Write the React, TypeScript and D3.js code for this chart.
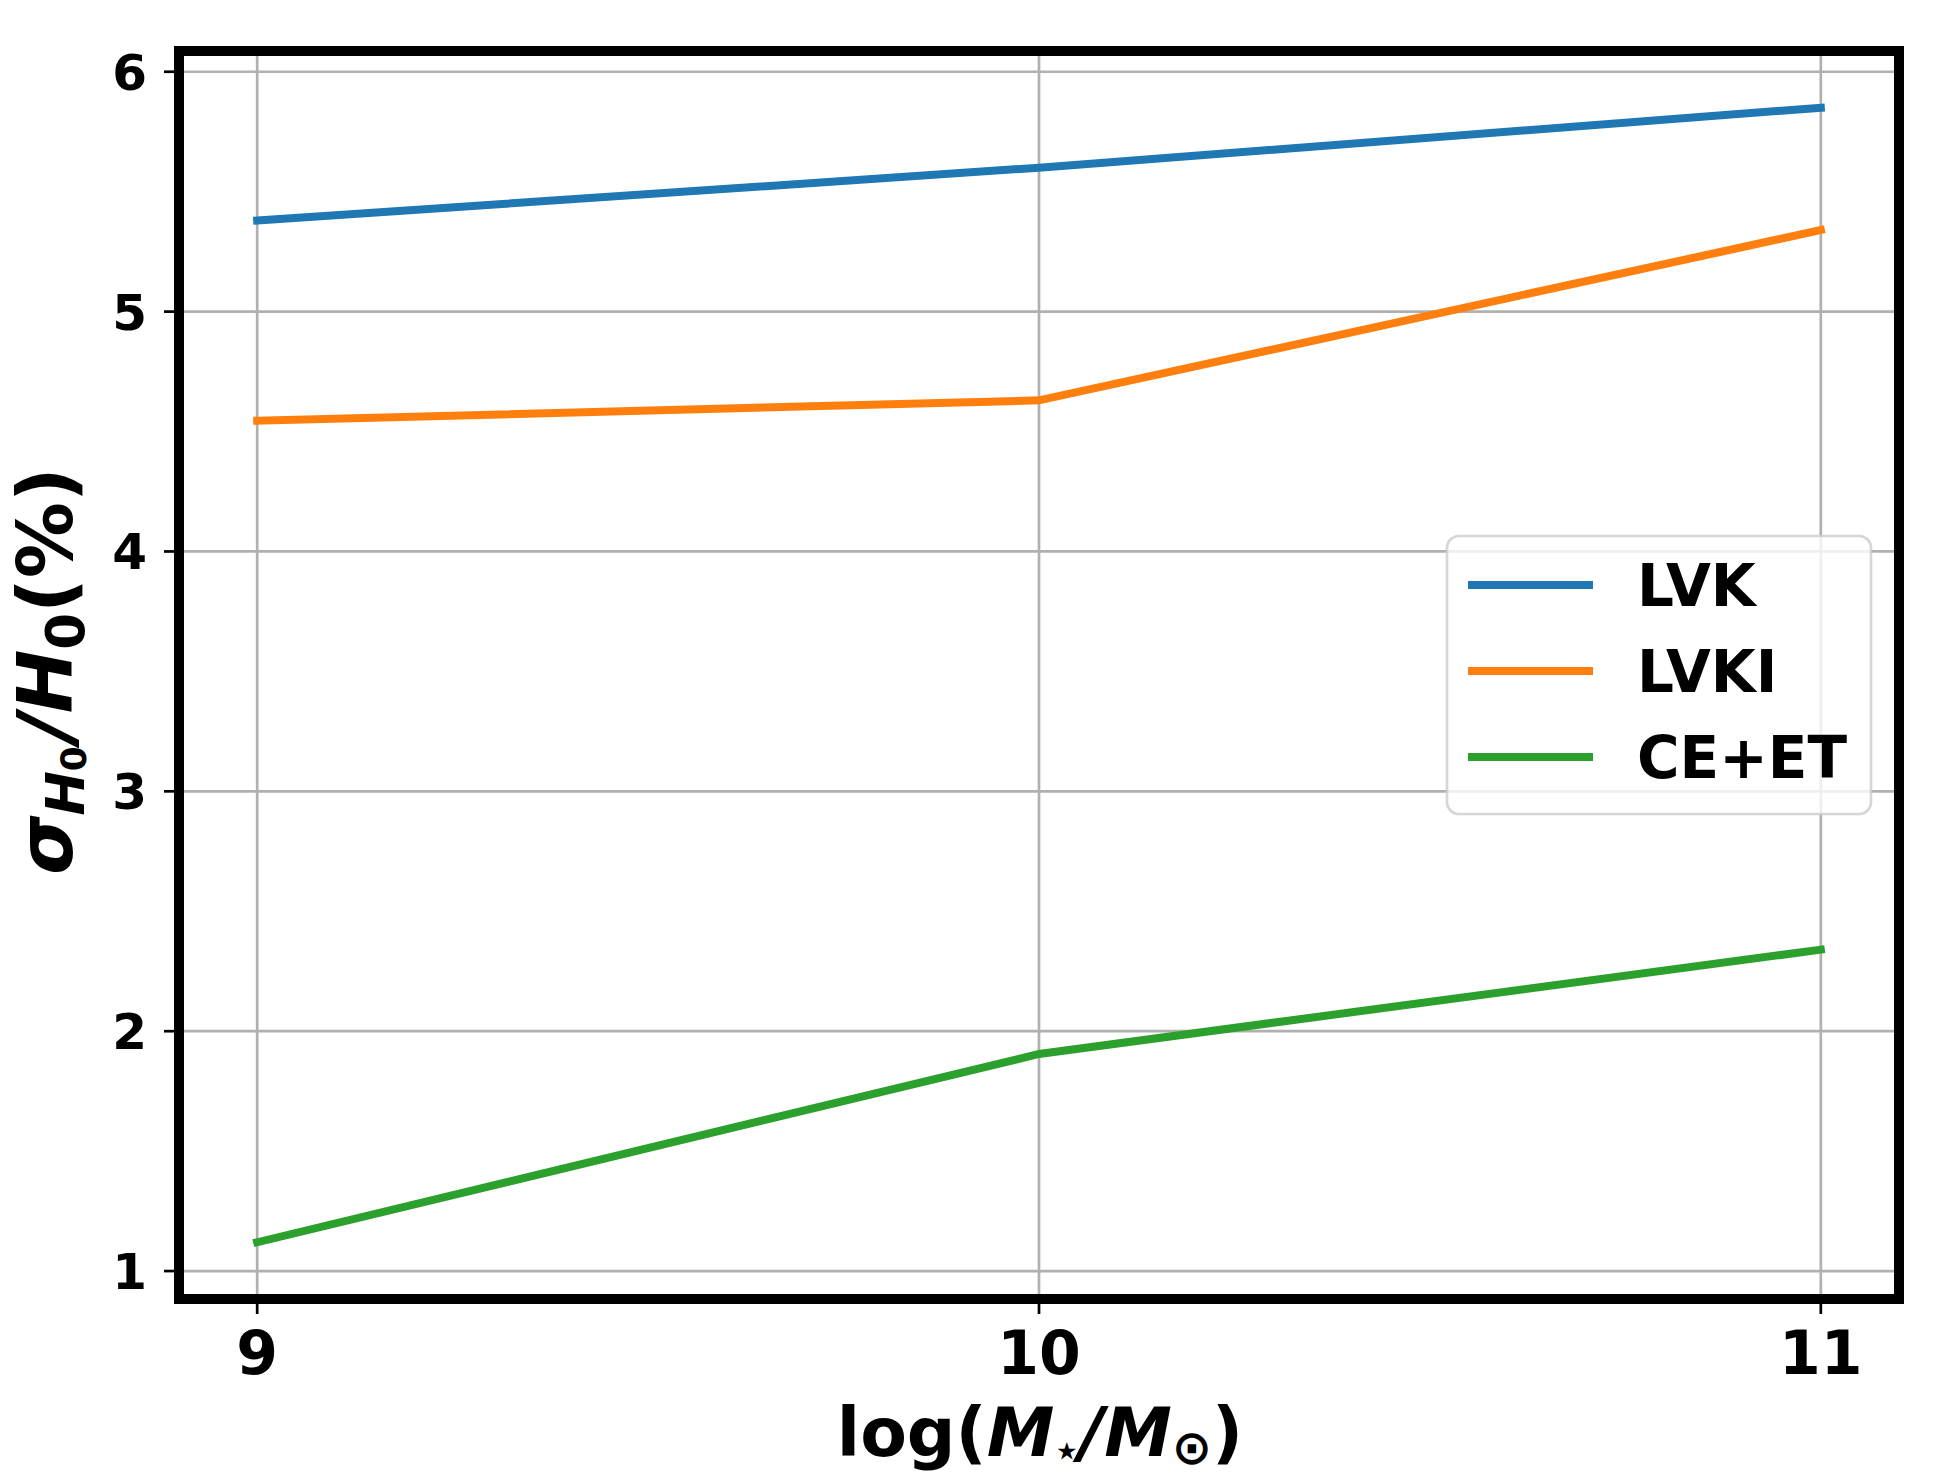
import * as d3 from "d3";

// stellar mass bins, log(M*/Msun)
const massBins = [9, 10, 11];
const seriesNames = ["LVK", "LVKI", "CE+ET"];
const lvkValues = [5.38, 5.6, 5.85];
const lvkiValues = [4.545, 4.63, 5.34];
const ceEtValues = [1.12, 1.905, 2.34];
const xTicks = [9, 10, 11];
const yTicks = [1, 2, 3, 4, 5, 6];
const colors = ["#1f77b4", "#ff7f0e", "#2ca02c"];

const W = 1951;
const H = 1476;
const margin = { top: 51, right: 52, bottom: 177, left: 179 };
const FONT = "DejaVu Sans";

// matplotlib style 5% padding around data
function padded(ext: [number, number], frac = 0.05): [number, number] {
  const d = (ext[1] - ext[0]) * frac;
  return [ext[0] - d, ext[1] + d];
}

export default function App() {
  const series = [lvkValues, lvkiValues, ceEtValues];
  const allY = series.flat();

  const x = d3
    .scaleLinear()
    .domain(padded(d3.extent(massBins) as [number, number]))
    .range([margin.left, W - margin.right]);
  const y = d3
    .scaleLinear()
    .domain(padded(d3.extent(allY) as [number, number]))
    .range([H - margin.bottom, margin.top]);

  const line = d3
    .line<number>()
    .x((_, i) => x(massBins[i]))
    .y((d) => y(d));

  const [x0, x1] = x.range();
  const [y0, y1] = y.range(); // y0 bottom, y1 top

  // legend box
  const lg = { x: 1447, y: 536, w: 424, h: 278 };
  const rowGap = 86;

  return (
    <div style={{ position: "absolute", left: 0, top: 0 }}>
      <svg width={W} height={H} style={{ display: "block", background: "#fff" }}>
        {/* grid */}
        <g stroke="#b0b0b0" strokeWidth={2.7}>
          {xTicks.map((t) => (
            <line key={"gx" + t} x1={x(t)} x2={x(t)} y1={y0} y2={y1} />
          ))}
          {yTicks.map((t) => (
            <line key={"gy" + t} x1={x0} x2={x1} y1={y(t)} y2={y(t)} />
          ))}
        </g>

        {/* data lines */}
        {series.map((s, i) => (
          <path
            key={seriesNames[i]}
            d={line(s) || ""}
            fill="none"
            stroke={colors[i]}
            strokeWidth={8}
            strokeLinecap="square"
          />
        ))}

        {/* spines */}
        <rect x={x0} y={y1} width={x1 - x0} height={y0 - y1} fill="none" stroke="#000" strokeWidth={10} />

        {/* ticks */}
        <g stroke="#000" strokeWidth={2.7}>
          {xTicks.map((t) => (
            <line key={"tx" + t} x1={x(t)} x2={x(t)} y1={y0} y2={y0 + 15} />
          ))}
          {yTicks.map((t) => (
            <line key={"ty" + t} x1={x0 - 15} x2={x0} y1={y(t)} y2={y(t)} />
          ))}
        </g>
        <g fontFamily={FONT} fontWeight="bold" fill="#000">
          {xTicks.map((t) => (
            <text key={"lx" + t} x={x(t)} y={y0 + 75} fontSize={60} textAnchor="middle">
              {t}
            </text>
          ))}
          {yTicks.map((t) => (
            <text key={"ly" + t} x={x0 - 32} y={y(t) + 18} fontSize={50} textAnchor="end">
              {t}
            </text>
          ))}
        </g>

        {/* x label */}
        <text x={(x0 + x1) / 2 + 1} y={1456} fontFamily={FONT} fontWeight="bold" fontSize={68} textAnchor="middle">
          <tspan>log(</tspan>
          <tspan fontStyle="italic">M</tspan>
          <tspan fontSize={40} dy={8}>⋆</tspan>
          <tspan fontStyle="italic" dy={-8}>/M</tspan>
          <tspan fontSize={48} dy={8}>⊙</tspan>
          <tspan dy={-8}>)</tspan>
        </text>

        {/* y label */}
        <text
          transform={`translate(72, ${(y0 + y1) / 2 - 4}) rotate(-90)`}
          fontFamily={FONT}
          fontWeight="bold"
          fontSize={76}
          textAnchor="middle"
        >
          <tspan fontStyle="italic">σ</tspan>
          <tspan fontStyle="italic" fontSize={53} dy={12}>H</tspan>
          <tspan fontSize={36} dy={2}>0</tspan>
          <tspan fontStyle="italic" dy={-14} dx={5}>/H</tspan>
          <tspan fontSize={53} dy={12}>0</tspan>
          <tspan dy={-12}>(%)</tspan>
        </text>

        {/* legend */}
        <rect
          x={lg.x}
          y={lg.y}
          width={lg.w}
          height={lg.h}
          rx={12}
          fill="#fff"
          fillOpacity={0.8}
          stroke="#cccccc"
          strokeOpacity={0.8}
          strokeWidth={2.7}
        />
        {seriesNames.map((name, i) => {
          const cy = 585 + i * rowGap;
          return (
            <g key={"lg" + name}>
              <line x1={1472} x2={1589} y1={cy} y2={cy} stroke={colors[i]} strokeWidth={8} strokeLinecap="square" />
              <text x={1637} y={cy + 21} fontFamily={FONT} fontWeight="bold" fontSize={58}>
                {name}
              </text>
            </g>
          );
        })}
      </svg>
    </div>
  );
}
